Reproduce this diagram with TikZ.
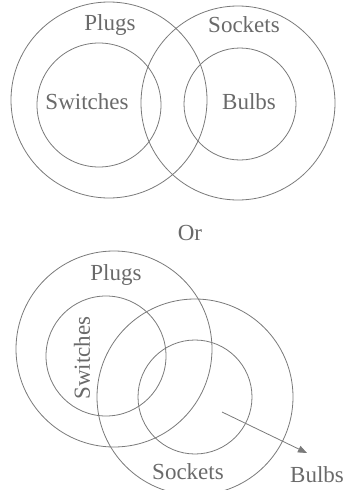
\documentclass[tikz,border=0pt]{standalone}
\usepackage{fontspec}
\setmainfont{Liberation Serif}
\usetikzlibrary{arrows.meta}
\definecolor{ln}{HTML}{7A7A7A}
\definecolor{tx}{HTML}{6A6A6A}
\tikzset{
  ring/.style={circle, draw=ln, line width=0.8pt, inner sep=0pt},
  lbl/.style={text=tx, font=\fontsize{23}{26}\selectfont, inner sep=0pt}
}
\begin{document}
\begin{tikzpicture}[x=1pt, y=-1pt]
\useasboundingbox (0,0) rectangle (343,490);
% top diagram
\node[ring, minimum size=196pt] (plugs1) at (109,100) {};
\node[ring, minimum size=194pt] (sockets1) at (238,103) {};
\node[ring, minimum size=124pt] (switches1) at (99,105) {};
\node[ring, minimum size=112pt] (bulbs1) at (240,104) {};
\node[lbl] (tplugs1) at (110,25) {Plugs};
\node[lbl] (tsockets1) at (244,25) {Sockets};
\node[lbl] (tswitches1) at (87,102) {Switches};
\node[lbl] (tbulbs1) at (249,102) {Bulbs};
\node[lbl] (or) at (190,233) {Or};
% bottom diagram
\node[ring, minimum size=196pt] (plugs2) at (114,349) {};
\node[ring, minimum size=120pt] (switches2) at (106,356) {};
\node[ring, minimum size=196pt] (sockets2) at (195,397) {};
\node[ring, minimum size=114pt] (bulbs2) at (195,397) {};
\node[lbl] (tplugs2) at (116,275) {Plugs};
\node[lbl, rotate=90] (tswitches2) at (82,358) {Switches};
\node[lbl] (tsockets2) at (188,472) {Sockets};
\node[lbl] (tbulbs2) at (317,475) {Bulbs};
\coordinate (astart) at (222,412);
\coordinate (aend) at (307,453);
\draw[ln, line width=0.8pt, -{Triangle[length=9pt,width=7pt]}] (astart) -- (aend);
\end{tikzpicture}
\end{document}
